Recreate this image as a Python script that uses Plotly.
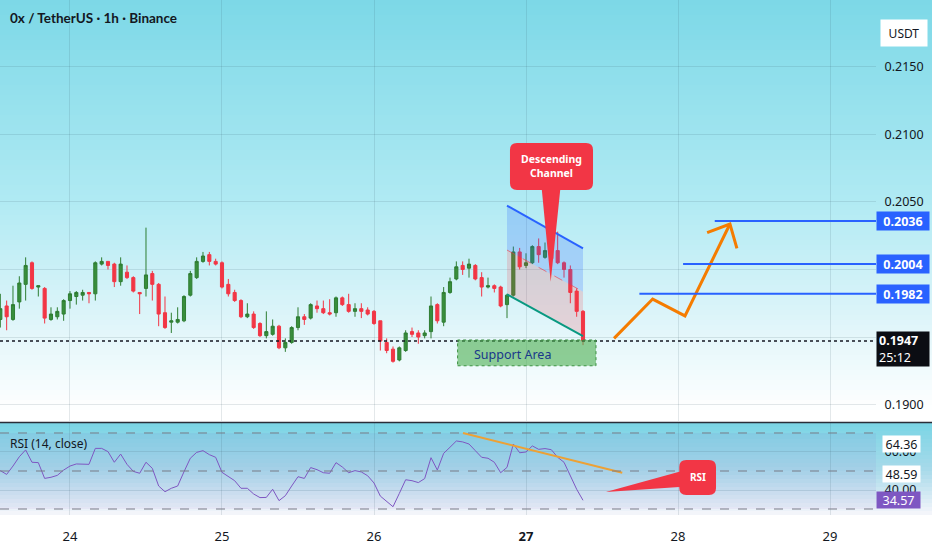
import pandas as pd
import plotly.graph_objects as go

W, H = 932, 550

# hourly candles, 0x / USDT
start = "2024-10-23 13:00"
opens = [0.1963, 0.1973, 0.1963, 0.1976, 0.1989, 0.2005, 0.1987, 0.1986, 0.1963, 0.1965,
         0.1967, 0.1977, 0.1980, 0.1981, 0.1983, 0.1982, 0.2004, 0.2006, 0.2004, 0.1991,
         0.1998, 0.1994, 0.1983, 0.1986, 0.1997, 0.1989, 0.1968, 0.1961, 0.1961, 0.1962,
         0.1981, 0.1994, 0.2006, 0.2011, 0.2006, 0.2005, 0.1989, 0.1983, 0.1977, 0.1965,
         0.1967, 0.1960, 0.1951, 0.1952, 0.1958, 0.1942, 0.1946, 0.1957, 0.1965, 0.1964,
         0.1973, 0.1971, 0.1968, 0.1968, 0.1979, 0.1974, 0.1969, 0.1971, 0.1970, 0.1969,
         0.1962, 0.1946, 0.1941, 0.1933, 0.1940, 0.1954, 0.1953, 0.1951, 0.1954, 0.1974,
         0.1961, 0.1983, 0.1993, 0.2003, 0.2001, 0.2003, 0.1994, 0.1987, 0.1988, 0.1987,
         0.1974, 0.1981, 0.2013, 0.2003, 0.2005, 0.2017, 0.2009, 0.2015, 0.2014, 0.2005,
         0.2000, 0.1984, 0.1969]
highs = [0.1982, 0.1977, 0.1988, 0.1995, 0.2009, 0.2006, 0.1988, 0.1987, 0.1972, 0.1972,
         0.1978, 0.1984, 0.1984, 0.1985, 0.1983, 0.2006, 0.2009, 0.2006, 0.2005, 0.2009,
         0.2003, 0.1995, 0.1983, 0.2031, 0.1999, 0.1990, 0.1980, 0.1968, 0.1972, 0.1981,
         0.1999, 0.2009, 0.2013, 0.2013, 0.2008, 0.2006, 0.1993, 0.1985, 0.1978, 0.1975,
         0.1969, 0.1961, 0.1969, 0.1963, 0.1959, 0.1949, 0.1958, 0.1972, 0.1967, 0.1975,
         0.1977, 0.1977, 0.1978, 0.1980, 0.1980, 0.1982, 0.1975, 0.1975, 0.1972, 0.1970,
         0.1962, 0.1949, 0.1943, 0.1943, 0.1955, 0.1957, 0.1955, 0.1955, 0.1980, 0.1975,
         0.1987, 0.1994, 0.2006, 0.2006, 0.2008, 0.2004, 0.1998, 0.1994, 0.1989, 0.1988,
         0.1982, 0.2017, 0.2016, 0.2012, 0.2018, 0.2023, 0.2020, 0.2020, 0.2028, 0.2006,
         0.2003, 0.1986, 0.1970]
lows = [0.1957, 0.1955, 0.1962, 0.1971, 0.1977, 0.1985, 0.1980, 0.1960, 0.1962, 0.1963,
        0.1962, 0.1971, 0.1974, 0.1977, 0.1975, 0.1977, 0.2003, 0.2000, 0.1987, 0.1988,
        0.1993, 0.1983, 0.1967, 0.1980, 0.1977, 0.1958, 0.1956, 0.1953, 0.1960, 0.1961,
        0.1980, 0.1993, 0.2005, 0.2003, 0.2003, 0.1986, 0.1980, 0.1976, 0.1964, 0.1964,
        0.1956, 0.1950, 0.1949, 0.1951, 0.1941, 0.1939, 0.1945, 0.1955, 0.1959, 0.1963,
        0.1968, 0.1967, 0.1966, 0.1965, 0.1973, 0.1968, 0.1965, 0.1964, 0.1966, 0.1959,
        0.1940, 0.1938, 0.1931, 0.1932, 0.1939, 0.1950, 0.1945, 0.1949, 0.1949, 0.1960,
        0.1958, 0.1982, 0.1992, 0.1996, 0.1994, 0.1992, 0.1980, 0.1986, 0.1983, 0.1972,
        0.1964, 0.1980, 0.2000, 0.2001, 0.2004, 0.2005, 0.2008, 0.2004, 0.2004, 0.1994,
        0.1975, 0.1965, 0.1944]
closes = [0.1971, 0.1965, 0.1974, 0.1990, 0.2003, 0.1986, 0.1988, 0.1964, 0.1967, 0.1969,
          0.1977, 0.1982, 0.1983, 0.1983, 0.1982, 0.2005, 0.2006, 0.2003, 0.1991, 0.2004,
          0.1994, 0.1984, 0.1982, 0.1996, 0.1989, 0.1967, 0.1957, 0.1962, 0.1963, 0.1980,
          0.1997, 0.2006, 0.2010, 0.2006, 0.2004, 0.1987, 0.1982, 0.1977, 0.1965, 0.1967,
          0.1957, 0.1951, 0.1954, 0.1958, 0.1942, 0.1946, 0.1957, 0.1965, 0.1963, 0.1974,
          0.1971, 0.1968, 0.1967, 0.1979, 0.1974, 0.1969, 0.1971, 0.1969, 0.1967, 0.1960,
          0.1947, 0.1940, 0.1932, 0.1942, 0.1953, 0.1952, 0.1950, 0.1953, 0.1973, 0.1962,
          0.1983, 0.1991, 0.2002, 0.2000, 0.2004, 0.1993, 0.1987, 0.1988, 0.1986, 0.1973,
          0.1981, 0.2013, 0.2002, 0.2005, 0.2017, 0.2011, 0.2014, 0.2008, 0.2005, 0.2000,
          0.1983, 0.1969, 0.1947]

# RSI (14, close), one value per candle
rsi = [50.2, 48.2, 52.6, 57.5, 61.1, 54.6, 54.4, 46.1, 46.7, 47.7,
       50.5, 52.6, 53.7, 53.7, 53.5, 61.9, 61.9, 60.2, 54.6, 58.9,
       53.5, 49.8, 48.8, 54.6, 51.4, 42.1, 39.1, 40.9, 42.1, 49.6,
       56.7, 59.8, 60.7, 58.6, 57.2, 49.3, 47.0, 44.9, 40.9, 40.9,
       37.9, 36.0, 36.1, 40.4, 34.4, 37.0, 42.1, 47.0, 46.1, 51.8,
       50.7, 49.1, 48.8, 54.4, 52.1, 49.1, 50.2, 49.5, 47.5, 43.7,
       36.8, 34.0, 31.2, 38.2, 45.4, 44.9, 43.9, 46.0, 57.0, 50.5,
       59.3, 62.5, 65.8, 65.3, 64.2, 60.7, 57.2, 56.7, 54.6, 49.1,
       51.9, 64.2, 59.6, 60.0, 63.2, 61.4, 61.8, 61.2, 57.2, 54.6,
       47.9, 40.4, 34.57]

day_ticks = ["2024-10-24", "2024-10-25", "2024-10-26", "2024-10-27", "2024-10-28", "2024-10-29"]
day_labels = ["24", "25", "26", "<b>27</b>", "28", "29"]
price_ticks = [0.1900, 0.1950, 0.2000, 0.2050, 0.2100, 0.2150]
# 0.1950 and 0.2000 sit under the last-price / level boxes
price_tick_labels = ["0.1900", "", "", "0.2050", "0.2100", "0.2150"]
rsi_ticks = [40, 60]
rsi_tick_labels = ["40.00", "60.00"]

last_price = 0.1947
countdown = "25:12"
rsi_ma = 48.59
rsi_upper = 64.36
levels = [0.1982, 0.2004, 0.2036]
level_start = [89.9, 96.8, 101.8]   # hours after the 24th

times = pd.date_range(start, periods=len(opens), freq="h")
t0 = pd.Timestamp("2024-10-24 00:00")


def at(h, path=False):
    s = (t0 + pd.Timedelta(hours=h)).strftime("%Y-%m-%d %H:%M:%S")
    return s.replace(" ", "_") if path else s


def px(x):
    return x / W


def py(y):
    return 1 - y / H


x_end = 127.26
x_range = [at(-11.05), at(x_end)]
price_range = [0.18878, 0.21996]
rsi_range = [26.84, 75.26]
ax_right = 876

fig = go.Figure()

# descending channel fills
ch_h = [69, 81]
ch_top = [0.20473, 0.20157]
ch_mid = [0.20144, 0.19836]
ch_bot = [0.19816, 0.19507]
fig.add_trace(go.Scatter(x=[at(ch_h[0]), at(ch_h[1]), at(ch_h[1]), at(ch_h[0])],
                         y=[ch_top[0], ch_top[1], ch_mid[1], ch_mid[0]],
                         fill="toself", fillcolor="rgba(41,98,255,0.22)",
                         line=dict(width=0), mode="lines"))
fig.add_trace(go.Scatter(x=[at(ch_h[0]), at(ch_h[1]), at(ch_h[1]), at(ch_h[0])],
                         y=[ch_mid[0], ch_mid[1], ch_bot[1], ch_bot[0]],
                         fill="toself", fillcolor="rgba(242,54,69,0.18)",
                         line=dict(width=0), mode="lines"))

fig.add_trace(go.Candlestick(
    x=times, open=opens, high=highs, low=lows, close=closes,
    increasing=dict(line=dict(color="#2e7d32", width=1), fillcolor="#388e3c"),
    decreasing=dict(line=dict(color="#f23645", width=1), fillcolor="#f23645"),
    whiskerwidth=0))

# channel borders
fig.add_trace(go.Scatter(x=[at(h) for h in ch_h], y=ch_top, mode="lines",
                         line=dict(color="#2962ff", width=2)))
fig.add_trace(go.Scatter(x=[at(h) for h in ch_h], y=ch_mid, mode="lines",
                         line=dict(color="rgba(242,54,69,0.6)", width=1, dash="dash")))
fig.add_trace(go.Scatter(x=[at(h) for h in ch_h], y=ch_bot, mode="lines",
                         line=dict(color="#089981", width=2)))

# projected path arrow
path_h = [85.9, 92.0, 97.1, 104.2]
path_p = [0.19490, 0.19781, 0.19656, 0.20337]
head_h = [100.6, 104.2, 105.3]
head_p = [0.20273, 0.20337, 0.20157]
fig.add_trace(go.Scatter(x=[at(h) for h in path_h], y=path_p, mode="lines",
                         line=dict(color="#f57c00", width=3)))
fig.add_trace(go.Scatter(x=[at(h) for h in head_h], y=head_p, mode="lines",
                         line=dict(color="#f57c00", width=3)))

# RSI pane
fig.add_trace(go.Scatter(x=times, y=rsi, mode="lines", xaxis="x2", yaxis="y2",
                         line=dict(color="#7e57c2", width=1)))
trend_h = [62.05, 87.2]
trend_v = [70.0, 49.1]
fig.add_trace(go.Scatter(x=[at(h) for h in trend_h], y=trend_v, mode="lines",
                         xaxis="x2", yaxis="y2", line=dict(color="#eda135", width=2)))

shapes = []


def mix(stops, y):
    for (ya, ca), (yb, cb) in zip(stops, stops[1:]):
        if ya <= y <= yb:
            f = (y - ya) / (yb - ya)
            return "rgb(%d,%d,%d)" % tuple(round(a + (b - a) * f) for a, b in zip(ca, cb))
    return "rgb(%d,%d,%d)" % stops[-1][1]


main_stops = [(0, (124, 216, 231)), (200, (176, 234, 243)), (330, (226, 246, 250)), (412, (255, 255, 255))]
rsi_stops = [(423, (122, 213, 229)), (470, (168, 218, 234)), (515, (246, 246, 251))]
for y in range(0, 421, 5):
    shapes.append(dict(type="rect", xref="paper", yref="paper", x0=0, x1=1,
                       y0=py(y + 5.5), y1=py(y), fillcolor=mix(main_stops, y + 2.5),
                       line=dict(width=0), layer="below"))
for y in range(423, 515, 4):
    shapes.append(dict(type="rect", xref="paper", yref="paper", x0=0, x1=1,
                       y0=py(min(y + 4.5, 515)), y1=py(y), fillcolor=mix(rsi_stops, y + 2),
                       line=dict(width=0), layer="below"))
shapes.append(dict(type="rect", xref="paper", yref="y2", x0=0, x1=px(ax_right), y0=30, y1=70,
                   fillcolor="rgba(126,87,194,0.07)", line=dict(width=0), layer="below"))

# RSI pane border and bands
shapes.append(dict(type="line", xref="paper", yref="paper", x0=0, x1=1, y0=py(422.5), y1=py(422.5),
                   line=dict(color="#2a2e39", width=1.5)))
for v in [70, 50, 30]:
    shapes.append(dict(type="line", xref="paper", yref="y2", x0=0, x1=px(ax_right), y0=v, y1=v,
                       line=dict(color="#787b86", width=1, dash="dash")))

# last price dotted line
shapes.append(dict(type="line", xref="paper", yref="y", x0=0, x1=px(ax_right),
                   y0=last_price, y1=last_price, line=dict(color="#131722", width=1.5, dash="dot")))

# resistance rays
for lv, h in zip(levels, level_start):
    shapes.append(dict(type="line", xref="x", yref="y", x0=at(h), x1=at(x_end), y0=lv, y1=lv,
                       line=dict(color="#2962ff", width=2)))

# support area
shapes.append(dict(type="rect", xref="x", yref="y", x0=at(61.2), x1=at(83.05), y0=0.19287, y1=0.19478,
                   fillcolor="rgba(76,175,80,0.6)", line=dict(color="#3d9142", width=1, dash="dot")))


def callout(xa, xb, ya, yb, rx, ry, tail, tail_side):
    P = lambda h, v: "%s,%s" % (at(h, True), v)
    d = "M%s L%s Q%s %s L%s Q%s %s " % (P(xa + rx, yb), P(xb - rx, yb), P(xb, yb), P(xb, yb - ry),
                                         P(xb, ya + ry), P(xb, ya), P(xb - rx, ya))
    if tail_side == "bottom":
        d += "L%s L%s L%s " % tuple(P(*p) for p in tail)
        d += "L%s Q%s %s L%s " % (P(xa + rx, ya), P(xa, ya), P(xa, ya + ry), P(xa, yb - ry))
    else:
        d += "L%s Q%s %s " % (P(xa + rx, ya), P(xa, ya), P(xa, ya + ry))
        d += "L%s L%s L%s " % tuple(P(*p) for p in tail)
        d += "L%s " % P(xa, yb - ry)
    d += "Q%s %s Z" % (P(xa, yb), P(xa + rx, yb))
    return d


shapes.append(dict(type="path", xref="x", yref="y", fillcolor="#f23645", line=dict(width=0),
                   path=callout(69.47, 82.58, 0.20589, 0.20937, 1.1, 0.00052,
                                [(77.4, 0.20589), (75.9, 0.1991), (74.5, 0.20589)], "bottom")))
shapes.append(dict(type="path", xref="x", yref="y2", fillcolor="#f23645", line=dict(width=0),
                   path=callout(96.2, 102.0, 37.4, 55.8, 1.1, 3.7,
                                [(96.2, 41.6), (84.6, 38.9), (96.2, 49.6)], "left")))

ann = []
font = "Noto Sans"
ann.append(dict(xref="paper", yref="paper", x=px(8), y=py(18), xanchor="left", yanchor="middle",
                text="0x / TetherUS · 1h · Binance", showarrow=False,
                font=dict(family="Lato", size=13.5, color="#131722", weight=700)))
ann.append(dict(xref="paper", yref="paper", x=px(8), y=py(443), xanchor="left", yanchor="middle",
                text="RSI (14, close)", showarrow=False, font=dict(family=font, size=12, color="#131722")))
ann.append(dict(xref="x", yref="y", x=at(76.0), y=0.20763, text="<b>Descending<br>Channel</b>",
                showarrow=False, font=dict(family=font, size=10.5, color="white")))
ann.append(dict(xref="x", yref="y2", x=at(99.1), y=46.6, text="<b>RSI</b>",
                showarrow=False, font=dict(family=font, size=10, color="white")))
ann.append(dict(xref="x", yref="y", x=at(63.4), y=0.19374, xanchor="left", text="Support Area",
                showarrow=False, font=dict(family=font, size=12.5, color="#19388a")))
ann.append(dict(xref="paper", yref="paper", x=px(880), y=py(19), xanchor="left", text="USDT",
                showarrow=False, bgcolor="white", width=42, height=22, borderpad=2,
                font=dict(family=font, size=12, color="#131722")))
for lv in levels:
    ann.append(dict(xref="paper", yref="y", x=px(ax_right), y=lv, xanchor="left", yanchor="middle",
                    text="<b>%.4f</b>" % lv, showarrow=False, bgcolor="#2962ff", width=48, height=14,
                    borderpad=2, font=dict(family=font, size=12.5, color="white")))
ann.append(dict(xref="paper", yref="paper", x=px(ax_right), y=py(349), xanchor="left", yanchor="middle",
                text="<b>%.4f</b><br>%s" % (last_price, countdown), showarrow=False, bgcolor="#0b0d13",
                width=48, height=30, borderpad=2, align="left",
                font=dict(family=font, size=12.5, color="white")))
for v, bg, fg in [(rsi_upper, "white", "#131722"), (rsi_ma, "white", "#131722"), (rsi[-1], "#7e57c2", "white")]:
    ann.append(dict(xref="paper", yref="y2", x=px(921), y=v, xanchor="right", yanchor="middle",
                    text="%.2f" % v, showarrow=False, bgcolor=bg, height=13, borderpad=1.5,
                    width=40 if bg != "white" else 34,
                    font=dict(family=font, size=12.5, color=fg)))

grid = "rgba(50,80,95,0.13)"
fig.update_layout(
    width=W, height=H, margin=dict(l=0, r=0, t=0, b=0),
    paper_bgcolor="white", plot_bgcolor="rgba(0,0,0,0)",
    showlegend=False, hovermode=False,
    shapes=shapes, annotations=ann,
    xaxis=dict(type="date", domain=[0, px(ax_right)], range=x_range, anchor="y",
               tickvals=day_ticks, showticklabels=False, showgrid=True, gridcolor=grid,
               zeroline=False, rangeslider=dict(visible=False)),
    xaxis2=dict(type="date", domain=[0, px(ax_right)], matches="x", anchor="y2",
                tickvals=day_ticks, ticktext=day_labels, showgrid=True, gridcolor=grid,
                ticks="outside", ticklen=9, tickcolor="rgba(0,0,0,0)",
                tickfont=dict(family=font, size=13, color="#131722")),
    yaxis=dict(domain=[py(421), 1], range=price_range, side="right", anchor="x",
               tickvals=price_ticks, ticktext=price_tick_labels, ticks="outside", ticklen=5,
               tickcolor="rgba(0,0,0,0)", showgrid=True, gridcolor=grid, zeroline=False,
               tickfont=dict(family=font, size=12.5, color="#131722")),
    yaxis2=dict(domain=[py(515), py(423)], range=rsi_range, side="right", anchor="x2",
                tickvals=rsi_ticks, ticktext=rsi_tick_labels, ticks="outside", ticklen=5,
                tickcolor="rgba(0,0,0,0)", showgrid=True, gridcolor=grid, zeroline=False,
                tickfont=dict(family=font, size=12.5, color="#131722")),
)

# the page's default body margin would shift the chart by 8px
fig.write_html("out.html", config={"displayModeBar": False},
               post_script="document.body.style.margin='0';")
